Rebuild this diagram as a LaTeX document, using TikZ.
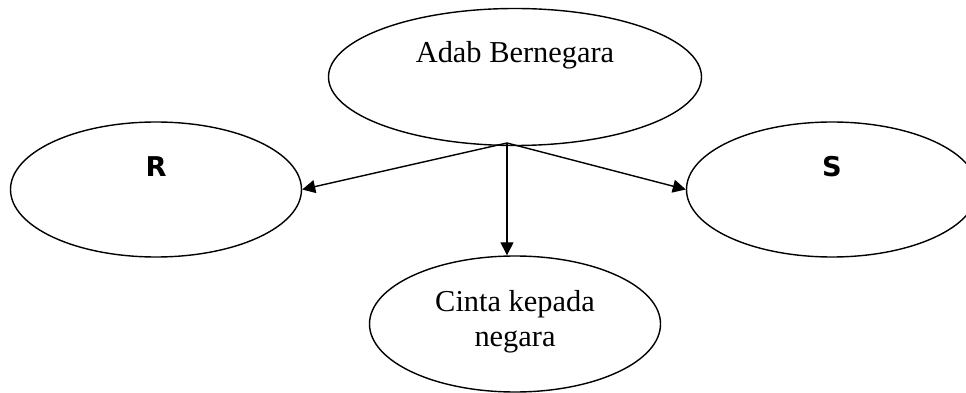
\documentclass[tikz,border=0pt]{standalone}
\usepackage{fontspec}
\setmainfont{Liberation Serif}
\newfontfamily\lettersans{DejaVu Sans}
\usetikzlibrary{shapes.geometric, arrows.meta}

\begin{document}
\begin{tikzpicture}[
        oval/.style={draw, ellipse, line width=0.8pt, minimum width=5.82cm, minimum height=2.7cm},
        ovaltext/.style={font=\fontsize{17.3}{20}\selectfont, align=center},
        lettertext/.style={font=\lettersans\bfseries\fontsize{15.5}{18}\selectfont},
        link/.style={-{Triangle[length=0.26cm, width=0.26cm]}, line width=0.8pt}
    ]
        \useasboundingbox (0, 0) rectangle (19.32, -7.86);

        \node[oval, minimum width=7.46cm, minimum height=2.74cm] (adab) at (10.30, -1.54) {};
        \node[oval] (r) at (3.12, -3.79) {};
        \node[oval] (s) at (16.64, -3.79) {};
        \node[oval, minimum height=2.72cm] (cinta) at (10.30, -6.48) {};

        \node[ovaltext, anchor=base] (adabtext) at ([yshift=0.28cm]adab.center) {Adab Bernegara};
        \foreach \x/\t in {r/R, s/S} {
            \node[lettertext, anchor=base] (\x text) at ([yshift=0.26cm]\x.center) {\t};
        }
        \node[ovaltext] (cintatext) at ([yshift=0.05cm]cinta.center) {Cinta kepada\\negara};

        \coordinate (fork) at (10.14, -2.86);
        \draw[link] (fork) -- (r.east);
        \draw[link] (fork) -- (s.west);
        \draw[link] (fork) -- (fork |- cinta.north);
    \end{tikzpicture}
\end{document}
